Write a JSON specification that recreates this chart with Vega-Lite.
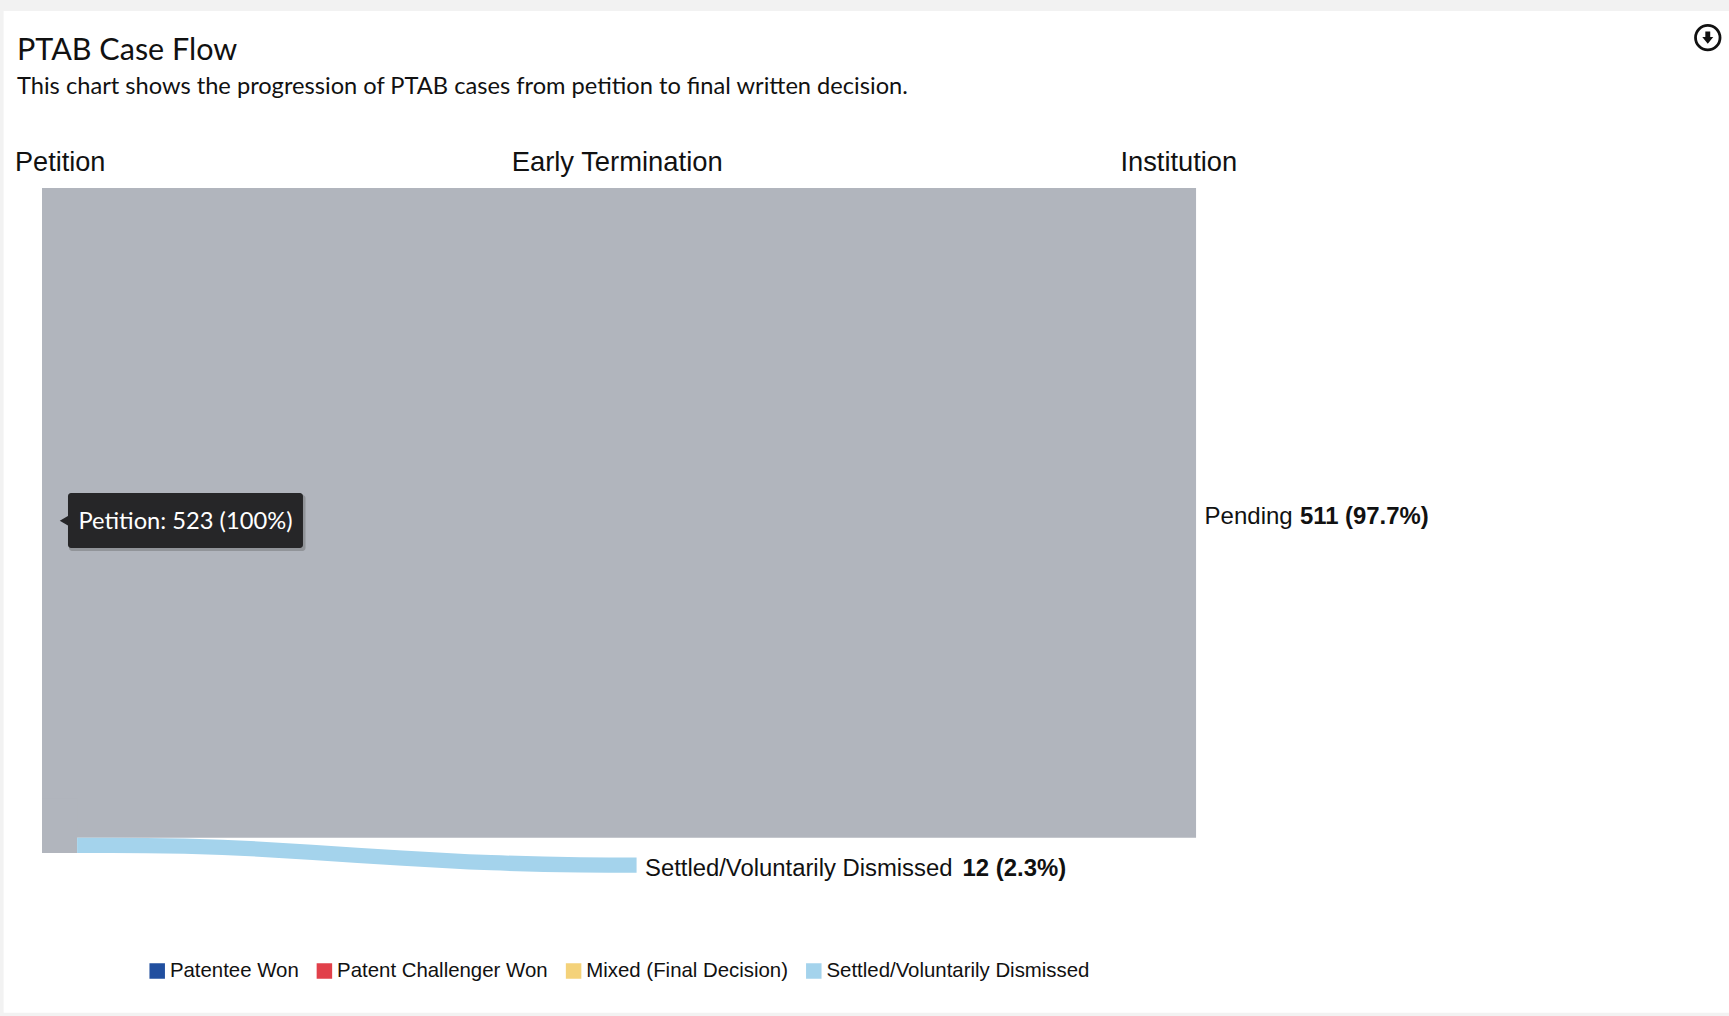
{
"$schema":"https://vega.github.io/schema/vega-lite/v6.json",
"width":1729,"height":1016,"padding":0,"autosize":{"type":"none"},
"background":"#f2f2f2",
"title":{"text":"PTAB Case Flow","subtitle":"This chart shows the progression of PTAB cases from petition to final written decision.","anchor":"start","frame":"group","orient":"top","dx":17,"dy":103,"font":"Lato","fontSize":30.5,"fontWeight":"normal","color":"#111111","subtitleFont":"Lato","subtitleFontSize":23.65,"subtitleColor":"#111111","subtitlePadding":9},
"config":{"view":{"stroke":null}},
"datasets":{
"card":[{"x":-3.37,"x2":146.2,"y":-139.2,"y2":648.6}],
"bands":[{"name":"Petition to Pending","x":-0.0431,"x2":100,"y":0,"y2":511},{"name":"Petition to Settled","x":-0.0431,"x2":3.0,"y":480,"y2":523}],
"flow":[
{"outcome":"Settled/Voluntarily Dismissed","stage":3.0,"top":511,"bottom":523},
{"outcome":"Settled/Voluntarily Dismissed","stage":9.0,"top":511.2,"bottom":523.2},
{"outcome":"Settled/Voluntarily Dismissed","stage":15.6,"top":512.5,"bottom":524.5},
{"outcome":"Settled/Voluntarily Dismissed","stage":23.4,"top":516.5,"bottom":528.5},
{"outcome":"Settled/Voluntarily Dismissed","stage":31.2,"top":521,"bottom":533},
{"outcome":"Settled/Voluntarily Dismissed","stage":38.9,"top":524.6,"bottom":536.6},
{"outcome":"Settled/Voluntarily Dismissed","stage":46.6,"top":526.3,"bottom":538.3},
{"outcome":"Settled/Voluntarily Dismissed","stage":51.5,"top":526.5,"bottom":538.5}],
"regular":[
{"label":"Petition","x":-2.38,"y":-19.5,"size":27.1},
{"label":"Early Termination","x":40.67,"y":-19.5,"size":27.4},
{"label":"Institution","x":93.44,"y":-19.5,"size":27.3},
{"label":"Pending","x":100.74,"y":259,"size":24},
{"label":"Settled/Voluntarily Dismissed","x":52.23,"y":535.7,"size":23.85}],
"bold":[
{"label":"511 (97.7%)","x":109.0,"y":259},
{"label":"12 (2.3%)","x":79.76,"y":535.7}],
"tipBox":[{"x":2.21,"x2":22.58,"y":239.9,"y2":283.1}],
"tipShadow":[{"x":2.3,"x2":22.8,"y":241.5,"y2":285.5}],
"tipArrow":[{"x":2.0,"y":261.7}],
"tipText":[{"label":"Petition: 523 (100%)","x":3.12,"y":262.8}],
"icon":[{"x":144.36,"y":-118.2}]
},
"layer":[
{"data":{"name":"card"},"mark":{"type":"rect","color":"#ffffff"},"encoding":{
"x":{"field":"x","type":"quantitative","axis":null,"scale":{"domain":[-3.684,146.2],"nice":false,"zero":false}},"x2":{"field":"x2"},
"y":{"field":"y","type":"quantitative","axis":null,"scale":{"domain":[-147.85,651.2],"reverse":true,"nice":false,"zero":false}},"y2":{"field":"y2"}}},
{"data":{"name":"bands"},"mark":{"type":"rect","color":"#b1b5bd"},"encoding":{
"x":{"field":"x","type":"quantitative"},"x2":{"field":"x2"},"y":{"field":"y","type":"quantitative"},"y2":{"field":"y2"}}},
{"data":{"name":"flow"},"mark":{"type":"area","interpolate":"monotone","opacity":1},"encoding":{
"x":{"field":"stage","type":"quantitative"},
"y":{"field":"top","type":"quantitative"},"y2":{"field":"bottom"},
"color":{"field":"outcome","type":"nominal","scale":{"domain":["Patentee Won","Patent Challenger Won","Mixed (Final Decision)","Settled/Voluntarily Dismissed"],"range":["#214f9f","#e1404a","#f4d27a","#a4d3ec"]},
"legend":{"title":null,"orient":"none","legendX":147,"legendY":958,"direction":"horizontal","columns":4,"gridAlign":"none","columnPadding":15.2,"symbolType":"square","symbolSize":240,"symbolStrokeWidth":0,"symbolOpacity":1,"labelFont":"Liberation Sans","labelFontSize":20.4,"labelColor":"#111111","labelOffset":2.5,"labelLimit":400,"clipHeight":26}}}},
{"data":{"name":"regular"},"mark":{"type":"text","align":"left","baseline":"middle","font":"Liberation Sans","color":"#111111"},"encoding":{
"x":{"field":"x","type":"quantitative"},"y":{"field":"y","type":"quantitative"},"text":{"field":"label"},
"size":{"field":"size","type":"quantitative","scale":null,"legend":null}}},
{"data":{"name":"bold"},"mark":{"type":"text","align":"left","baseline":"middle","font":"Liberation Sans","fontWeight":"bold","fontSize":23.9,"color":"#111111"},"encoding":{
"x":{"field":"x","type":"quantitative"},"y":{"field":"y","type":"quantitative"},"text":{"field":"label"}}},
{"data":{"name":"tipShadow"},"mark":{"type":"rect","color":"#555555","opacity":0.35,"cornerRadius":3},"encoding":{
"x":{"field":"x","type":"quantitative"},"x2":{"field":"x2"},"y":{"field":"y","type":"quantitative"},"y2":{"field":"y2"}}},
{"data":{"name":"tipArrow"},"mark":{"type":"point","shape":"triangle-left","filled":true,"color":"#262628","opacity":1,"size":180},"encoding":{
"x":{"field":"x","type":"quantitative"},"y":{"field":"y","type":"quantitative"}}},
{"data":{"name":"tipBox"},"mark":{"type":"rect","color":"#262628","cornerRadius":3},"encoding":{
"x":{"field":"x","type":"quantitative"},"x2":{"field":"x2"},"y":{"field":"y","type":"quantitative"},"y2":{"field":"y2"}}},
{"data":{"name":"tipText"},"mark":{"type":"text","align":"left","baseline":"middle","font":"Lato","fontSize":23.7,"color":"#ffffff"},"encoding":{
"x":{"field":"x","type":"quantitative"},"y":{"field":"y","type":"quantitative"},"text":{"field":"label"}}},
{"data":{"name":"icon"},"mark":{"type":"point","shape":"circle","filled":false,"color":"#111111","strokeWidth":2.8,"opacity":1,"size":600},"encoding":{
"x":{"field":"x","type":"quantitative"},"y":{"field":"y","type":"quantitative"}}},
{"data":{"name":"icon"},"mark":{"type":"point","shape":"M-0.2,-0.5 L0.2,-0.5 L0.2,-0.05 L0.45,-0.05 L0,0.5 L-0.45,-0.05 L-0.2,-0.05 Z","filled":true,"color":"#111111","opacity":1,"size":600},"encoding":{
"x":{"field":"x","type":"quantitative"},"y":{"field":"y","type":"quantitative"}}}
]
}
